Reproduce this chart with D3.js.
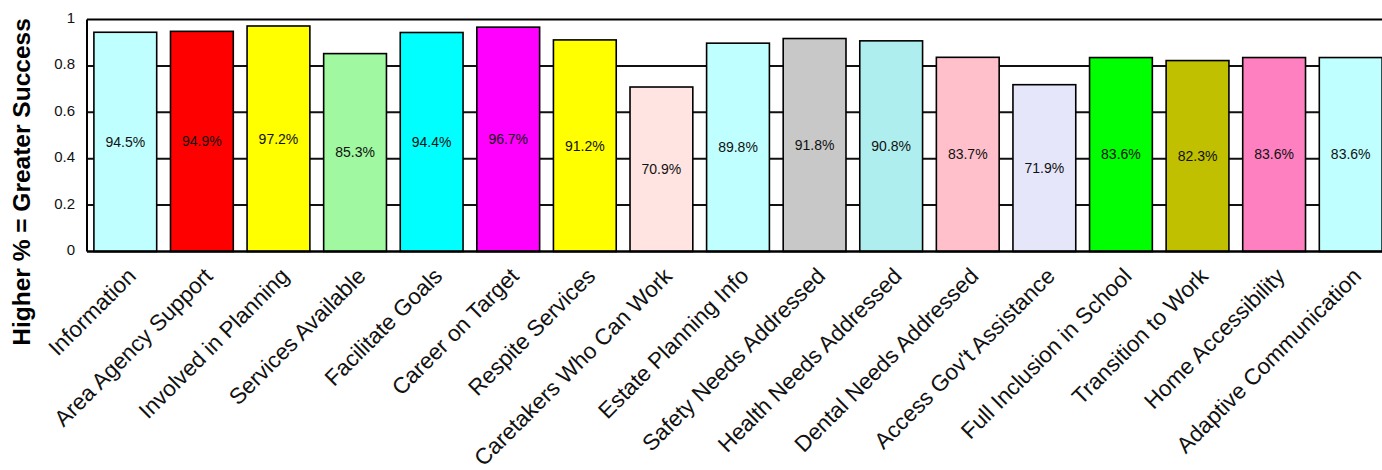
<!DOCTYPE html>
<html>
<head>
<meta charset="utf-8">
<script src="https://cdn.jsdelivr.net/npm/d3@7"></script>
<style>
  html, body { margin: 0; padding: 0; background: #fff; overflow: hidden; }
  svg { display: block; font-family: Arial, "Liberation Sans", sans-serif; }
</style>
</head>
<body>
<svg id="chart" width="1382" height="470"></svg>
<script>
// Outcome categories and their success rates
const categories = [
  "Information", "Area Agency Support", "Involved in Planning", "Services Available",
  "Facilitate Goals", "Career on Target", "Respite Services", "Caretakers Who Can Work",
  "Estate Planning Info", "Safety Needs Addressed", "Health Needs Addressed",
  "Dental Needs Addressed", "Access Gov't Assistance", "Full Inclusion in School",
  "Transition to Work", "Home Accessibility", "Adaptive Communication"
];
const values = [0.945, 0.949, 0.972, 0.853, 0.944, 0.967, 0.912, 0.709, 0.898,
                0.918, 0.908, 0.837, 0.719, 0.836, 0.823, 0.836, 0.836];
const barColors = [
  "#C0FFFF", "#FF0000", "#FFFF00", "#A0F8A0", "#00FFFF", "#FF00FF", "#FFFF00",
  "#FFE4E1", "#C0FFFF", "#C8C8C8", "#AFEEEE", "#FFC0CB", "#E6E6FA", "#00FF00",
  "#C0C000", "#FF80C0", "#C0FFFF"
];
const yTicks = [0, 0.2, 0.4, 0.6, 0.8, 1];
const yTickLabels = ["0", "0.2", "0.4", "0.6", "0.8", "1"];
const yTitle = "Higher % = Greater Success";

const svg = d3.select("#chart");
const plot = { left: 87, top: 19.5, width: 1302, height: 232 };

const x = d3.scaleBand()
  .domain(categories)
  .range([plot.left, plot.left + plot.width])
  .paddingInner(0.18)
  .paddingOuter(0.09);

const y = d3.scaleLinear()
  .domain([0, 1])
  .range([plot.top + plot.height, plot.top]);

// Horizontal gridlines behind the bars
svg.append("g")
  .selectAll("line")
  .data(yTicks.filter(t => t > 0 && t < 1))
  .join("line")
  .attr("x1", plot.left)
  .attr("x2", plot.left + plot.width)
  .attr("y1", d => y(d))
  .attr("y2", d => y(d))
  .attr("stroke", "#111")
  .attr("stroke-width", 2);

// Bars
svg.append("g")
  .selectAll("rect")
  .data(categories)
  .join("rect")
  .attr("x", d => x(d))
  .attr("width", x.bandwidth())
  .attr("y", (d, i) => y(values[i]))
  .attr("height", (d, i) => y(0) - y(values[i]))
  .attr("fill", (d, i) => barColors[i])
  .attr("stroke", "#000")
  .attr("stroke-width", 1.6);

// Percentage labels at mid-height of each bar
svg.append("g")
  .selectAll("text")
  .data(categories)
  .join("text")
  .attr("x", d => x(d) + x.bandwidth() / 2)
  .attr("y", (d, i) => y(values[i] / 2))
  .attr("dy", "0.35em")
  .attr("text-anchor", "middle")
  .attr("font-size", 14)
  .attr("fill", "#111")
  .text((d, i) => d3.format(".1%")(values[i]));

// Plot frame: top, left and bottom edges
svg.append("line")
  .attr("x1", plot.left).attr("x2", plot.left + plot.width)
  .attr("y1", y(1)).attr("y2", y(1))
  .attr("stroke", "#000").attr("stroke-width", 2);
svg.append("line")
  .attr("x1", plot.left).attr("x2", plot.left)
  .attr("y1", y(1)).attr("y2", y(0))
  .attr("stroke", "#000").attr("stroke-width", 2);
svg.append("line")
  .attr("x1", plot.left).attr("x2", plot.left + plot.width)
  .attr("y1", y(0)).attr("y2", y(0))
  .attr("stroke", "#000").attr("stroke-width", 2.5);

// Y axis tick labels
const yAxis = d3.axisLeft(y)
  .tickValues(yTicks)
  .tickFormat((d, i) => yTickLabels[i])
  .tickSize(0)
  .tickPadding(12);
const yg = svg.append("g")
  .attr("transform", `translate(${plot.left},0)`)
  .call(yAxis);
yg.select(".domain").remove();
yg.selectAll("text")
  .attr("font-size", 15)
  .attr("font-family", "Arial, 'Liberation Sans', sans-serif")
  .attr("fill", "#111")
  .attr("dy", "0.2em");

// X axis category labels, rotated
const xAxis = d3.axisBottom(x).tickSize(0).tickPadding(0);
const xg = svg.append("g")
  .attr("transform", `translate(0,${y(0)})`)
  .call(xAxis);
xg.select(".domain").remove();
xg.selectAll("text")
  .attr("font-size", 22.5)
  .attr("font-family", "Arial, 'Liberation Sans', sans-serif")
  .attr("fill", "#111")
  .attr("text-anchor", "end")
  .attr("dy", null)
  .attr("y", 0)
  .attr("transform", "translate(12,26) rotate(-45)");

// Y axis title
svg.append("text")
  .attr("transform", "translate(30,182) rotate(-90)")
  .attr("text-anchor", "middle")
  .attr("font-size", 24.5)
  .attr("font-weight", "bold")
  .attr("fill", "#000")
  .text(yTitle);
</script>
</body>
</html>
